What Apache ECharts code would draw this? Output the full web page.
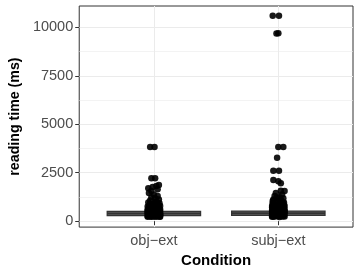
<!DOCTYPE html>
<html>
<head>
<meta charset="utf-8">
<script src="https://cdn.jsdelivr.net/npm/echarts@6/dist/echarts.min.js"></script>
<style>html,body{margin:0;padding:0;background:#fff}#c{width:357px;height:273px}</style>
</head>
<body>
<div id="c"></div>
<script>
// ---- data ----
const categories = ['obj\u2212ext', 'subj\u2212ext'];
const yTicks = [0, 2500, 5000, 7500, 10000];
const yMinorTicks = [1250, 3750, 6250, 8750];
// box stats per category: [min, q1, median, q3, upper whisker]
const boxStats = [
  [220, 290, 400, 510, 840],
  [210, 300, 410, 520, 860]
];
// observed points: [reading time, horizontal jitter]
const objExtPoints = [
  [3830,-0.03],[3830,0.005],[2220,-0.02],[2210,0.01],[1870,0.04],[1820,0.02],[1760,-0.01],
  [1700,-0.045],[1650,0.03],[1560,-0.02],[1460,-0.04],[1380,0.0],[1300,0.03],[1240,-0.02],
  [1180,0.01],[1120,0.04],[1060,-0.03],[1010,0.02],[960,-0.045],[930,0.045],[900,-0.01],
  [870,0.03],[840,-0.035],[810,0.01],[780,0.05],[760,-0.05],[730,0.02],[700,-0.02],[680,0.04],
  [650,-0.04],[630,0.0],[600,0.05],[580,-0.03],[560,0.02],[540,-0.05],[520,0.04],[500,-0.01],
  [480,0.05],[460,-0.04],[440,0.02],[420,-0.02],[400,0.05],[390,-0.05],[370,0.01],[350,-0.03],
  [340,0.04],[320,-0.045],[310,0.02],[300,-0.01],[290,0.05],[280,-0.03],[270,0.03],[260,-0.05],
  [250,0.0],[240,0.045],[230,-0.02],[225,0.02],
  [950,0.01],[880,-0.03],[820,0.035],[790,-0.015],[740,-0.04],[710,0.025],[670,0.0],[640,-0.025],
  [610,0.03],[590,-0.05],[570,0.045],[550,-0.01],[530,0.015],[510,-0.035],[490,0.03],[470,-0.02],
  [450,0.04],[430,-0.05],[410,0.0],[380,0.03],[360,-0.04],[330,0.05],[315,-0.02],[295,0.015],
  [275,-0.045],[265,0.04],[245,-0.03],[235,0.0],[228,0.05],[222,-0.05]
];
const subjExtPoints = [
  [10610,-0.045],[10610,0.005],[9690,-0.015],[9700,0.0],[3830,0.0],[3830,0.04],[3270,-0.01],
  [2600,-0.04],[2600,0.005],[2130,-0.04],[2060,0.0],[1960,0.02],[1570,0.02],[1560,0.05],
  [1460,-0.02],[1380,0.03],[1300,-0.03],[1240,0.01],[1180,0.04],[1120,-0.04],[1060,0.02],
  [1010,-0.01],[960,0.045],[920,-0.045],[890,0.01],[860,0.03],[830,-0.03],[800,0.05],[770,-0.02],
  [740,0.02],[710,-0.05],[690,0.04],[660,-0.01],[630,0.05],[600,-0.04],[580,0.01],[560,0.03],
  [540,-0.03],[520,0.05],[500,-0.05],[480,0.0],[460,0.04],[440,-0.02],[420,0.02],[400,-0.045],
  [380,0.05],[360,-0.01],[350,0.03],[330,-0.04],[320,0.01],[300,0.045],[290,-0.02],[280,0.02],
  [270,-0.05],[260,0.04],[250,-0.01],[240,0.03],[230,-0.035],[220,0.01],
  [1200,-0.01],[1100,0.02],[1040,-0.045],[980,0.03],[940,-0.02],[900,0.04],[850,-0.04],[810,0.01],
  [780,-0.05],[750,0.045],[720,-0.01],[680,0.025],[650,-0.035],[620,0.0],[590,0.04],[570,-0.05],
  [550,0.015],[530,-0.015],[510,0.035],[490,-0.03],[470,0.05],[450,-0.045],[430,0.0],[410,0.04],
  [390,-0.025],[370,0.02],[340,-0.05],[310,0.03],[285,-0.04],[265,0.0],[245,0.05],[228,-0.05]
];
// ---- chart ----
const FONT = '"Liberation Sans", Arial, Helvetica, sans-serif';
const GRID_COLOR = '#ebebeb';
const boxData = boxStats.map((s, i) => [i + 1].concat(s));
const toScatter = (pts, xi) => pts.map(p => [xi + p[1], p[0]]);

const chart = echarts.init(document.getElementById('c'), null, {renderer: 'canvas'});
chart.setOption({
  animation: false,
  backgroundColor: '#fff',
  grid: {left: 73, right: 4, top: 6, bottom: 44, show: true, borderColor: '#333', borderWidth: 1, backgroundColor: '#fff'},
  xAxis: {
    type: 'value', min: 0.4, max: 2.6,
    axisLine: {show: false},
    axisTick: {show: true, length: 4, lineStyle: {color: '#333'}, customValues: [1, 2]},
    axisLabel: {customValues: [1, 2], color: '#4d4d4d', fontSize: 14.5, fontFamily: FONT, margin: 6,
      formatter: v => categories[Math.round(v) - 1]},
    splitLine: {show: true, lineStyle: {color: GRID_COLOR, width: 1}},
    name: 'Condition', nameLocation: 'middle', nameGap: 24,
    nameTextStyle: {fontSize: 15, fontWeight: 'bold', color: '#000', fontFamily: FONT}
  },
  yAxis: [{
    type: 'value', min: -307, max: 11109,
    axisLine: {show: false},
    axisTick: {show: true, length: 4, lineStyle: {color: '#333'}, customValues: yTicks},
    axisLabel: {customValues: yTicks, color: '#4d4d4d', fontSize: 14.5, fontFamily: FONT, margin: 6,
      formatter: v => String(v)},
    splitLine: {show: true, lineStyle: {color: GRID_COLOR, width: 1}},
    name: 'reading time (ms)', nameLocation: 'middle', nameGap: 52,
    nameTextStyle: {fontSize: 14.2, fontWeight: 'bold', color: '#000', fontFamily: FONT}
  }, {
    type: 'value', min: -307, max: 11109, position: 'left',
    axisLine: {show: false},
    axisTick: {show: false, customValues: yMinorTicks},
    axisLabel: {show: false, customValues: yMinorTicks},
    splitLine: {show: true, lineStyle: {color: GRID_COLOR, width: 0.6}}
  }],
  series: [{
    type: 'custom',
    z: 2,
    data: boxData,
    encode: {x: 0, y: [1, 2, 3, 4, 5]},
    renderItem: function (params, api) {
      const x = api.value(0);
      const half = 0.375;
      const mn = api.value(1), q1 = api.value(2), md = api.value(3), q3 = api.value(4), mx = api.value(5);
      const tl = api.coord([x - half, q3]);
      const br = api.coord([x + half, q1]);
      const mL = api.coord([x - half, md]);
      const mR = api.coord([x + half, md]);
      const wTop = api.coord([x, mx]);
      const wQ3 = api.coord([x, q3]);
      const wBot = api.coord([x, mn]);
      const wQ1 = api.coord([x, q1]);
      const st = {stroke: '#333', lineWidth: 1.1};
      return {type: 'group', children: [
        {type: 'line', shape: {x1: wTop[0], y1: wTop[1], x2: wQ3[0], y2: wQ3[1]}, style: st},
        {type: 'line', shape: {x1: wBot[0], y1: wBot[1], x2: wQ1[0], y2: wQ1[1]}, style: st},
        {type: 'rect', shape: {x: tl[0], y: tl[1], width: br[0] - tl[0], height: br[1] - tl[1]},
          style: {fill: '#6a6a6a', stroke: '#333', lineWidth: 1.3}},
        {type: 'line', shape: {x1: mL[0], y1: mL[1], x2: mR[0], y2: mR[1]}, style: {stroke: '#333', lineWidth: 2}}
      ]};
    }
  }, {
    type: 'scatter', z: 3,
    symbolSize: 6.5,
    itemStyle: {color: '#000', opacity: 0.9},
    data: toScatter(objExtPoints, 1)
  }, {
    type: 'scatter', z: 3,
    symbolSize: 6.5,
    itemStyle: {color: '#000', opacity: 0.9},
    data: toScatter(subjExtPoints, 2)
  }]
});
</script>
</body>
</html>
